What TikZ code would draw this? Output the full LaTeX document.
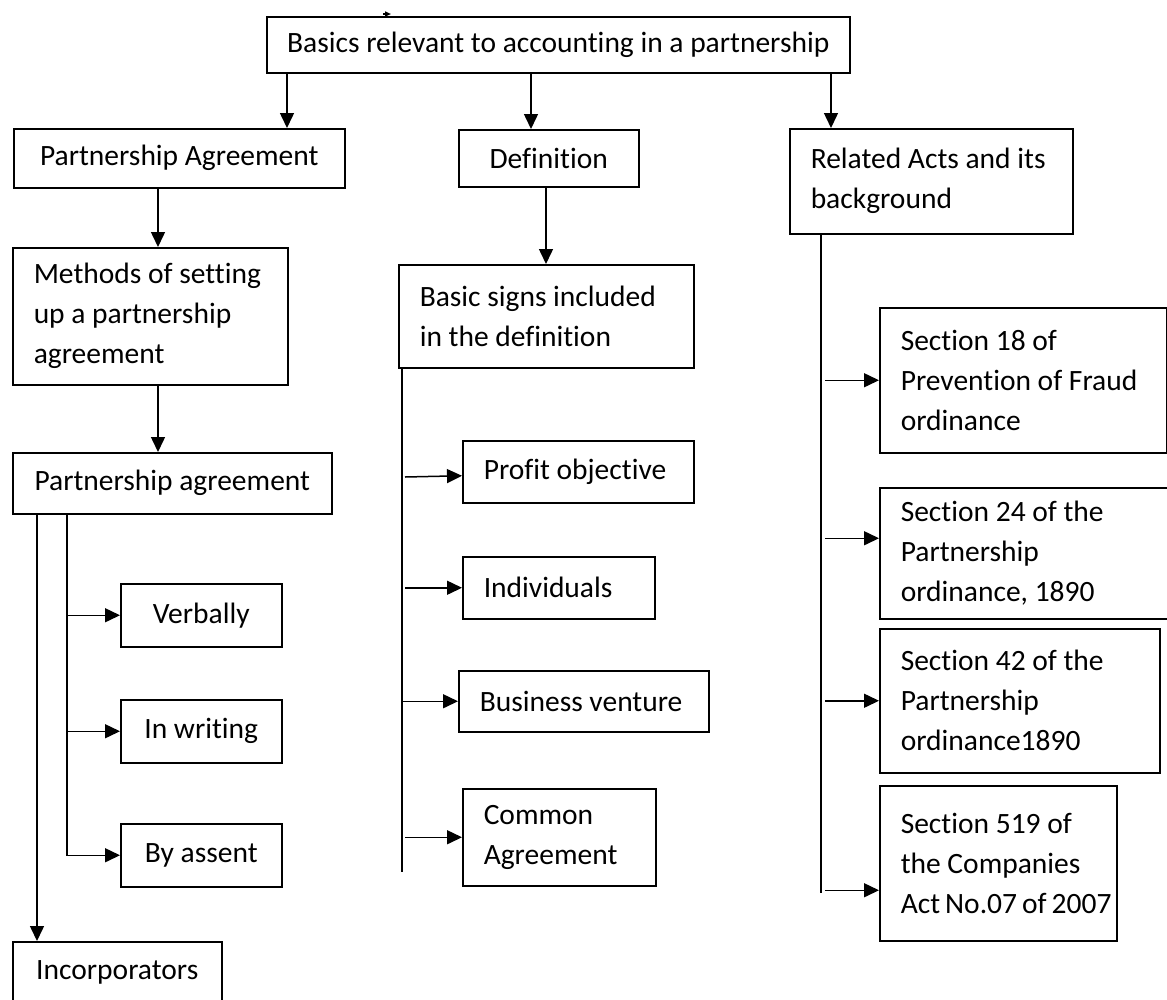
\documentclass[tikz,border=0pt]{standalone}
\usepackage{fontspec}
\setmainfont{Carlito}[Ligatures=NoCommon]
\usetikzlibrary{arrows.meta}

\begin{document}
\begin{tikzpicture}[x=1pt,y=-1pt,
  box/.style={draw, line width=1.5pt, anchor=north west, inner sep=0pt,
    font=\fontsize{29.5}{40}\selectfont},
  lbox/.style={box, inner xsep=21pt, align=flush left},
  line/.style={line width=1.5pt},
  arr/.style={line, -{Triangle[length=15pt,width=14pt]}}]
	\path[use as bounding box, fill=white] (0,0) rectangle (1167,999);

	\node[box, minimum width=583pt, minimum height=56pt] (basics) at (266,16) {Basics relevant to accounting in a partnership};
	\node[box, minimum width=331pt, minimum height=59pt] (pagree) at (13,128) {Partnership Agreement};
	\node[box, minimum width=180pt, minimum height=57pt] (defn) at (458,129) {Definition};
	\node[lbox, text width=241pt, minimum height=105pt] (acts) at (789,128) {Related Acts and its\\background};

	% left column
	\node[lbox, text width=233pt, minimum height=137pt] (methods) at (12,247) {Methods of setting\\up a partnership\\agreement};
	\node[box, minimum width=319pt, minimum height=61pt] (pagree2) at (12,452) {Partnership agreement};
	\node[box, minimum width=161pt, minimum height=63pt] (verbally) at (120,583) {Verbally};
	\node[box, minimum width=161pt, minimum height=63pt] (writing) at (120,699) {In writing};
	\node[box, minimum width=161pt, minimum height=63pt] (assent) at (120,823) {By assent};
	\node[box, minimum width=209pt, minimum height=62pt] (incorp) at (12,941) {Incorporators};

	% middle column
	\node[lbox, text width=253pt, minimum height=103pt] (signs) at (398,264) {Basic signs included\\in the definition};
	\node[lbox, text width=189pt, minimum height=62pt] (profit) at (462,440) {Profit objective};
	\node[lbox, text width=150pt, minimum height=62pt] (indiv) at (462,556) {Individuals};
	\node[lbox, text width=208pt, minimum height=61pt] (venture) at (458,670) {Business venture};
	\node[lbox, text width=151pt, minimum height=97pt] (common) at (462,788) {Common\\Agreement};

	% right column
	\node[lbox, text width=245pt, minimum height=145pt] (sec18) at (879,307) {Section 18 of\\Prevention~of~Fraud\\ordinance};
	\node[lbox, text width=253pt, minimum height=131pt] (sec24) at (879,487) {Section 24 of the\\Partnership\\ordinance, 1890};
	\node[lbox, text width=238pt, minimum height=144pt] (sec42) at (879,628) {Section 42 of the\\Partnership\\ordinance1890};
	\node[lbox, text width=195pt, minimum height=155pt] (sec519) at (879,785) {Section 519 of\\the~Companies\\\mbox{Act\kern5pt No.07\kern5pt of\kern5pt 2007}};

	\coordinate (xa) at (287,0);
	\coordinate (xb) at (531,0);
	\coordinate (xc) at (831,0);
	\coordinate (xd) at (158,0);
	\coordinate (xe) at (546,0);
	\coordinate (xf) at (37,0);
	\coordinate (xg) at (67,0);
	\coordinate (xm) at (402,0);
	\coordinate (xm2) at (405,0);
	\coordinate (mend) at (402,872);
	\coordinate (xr) at (821,0);
	\coordinate (xr2) at (825,0);
	\coordinate (rend) at (821,893);
	\coordinate (pa) at (405,477);
	\coordinate (s24) at ([yshift=15pt]sec24.west);
	\coordinate (s519) at ([yshift=-27pt]sec519.west);
	\coordinate (tick) at (383,14);
	\coordinate (tick2) at (391,14);

	\draw[line, -{Triangle[length=6pt,width=5pt]}] (tick) -- (tick2);

	\draw[arr] (basics.south -| xa) -- (pagree.north -| xa);
	\draw[arr] (basics.south -| xb) -- (defn.north -| xb);
	\draw[arr] (basics.south -| xc) -- (acts.north -| xc);

	\draw[arr] (pagree.south -| xd) -- (methods.north -| xd);
	\draw[arr] (methods.south -| xd) -- (pagree2.north -| xd);
	\draw[arr] (pagree2.south -| xf) -- (incorp.north -| xf);
	\draw[arr] (pagree2.south -| xg) |- (assent.west);
	\draw[arr] (verbally.west -| xg) -- (verbally.west);
	\draw[arr] (writing.west -| xg) -- (writing.west);

	\draw[arr] (defn.south -| xe) -- (signs.north -| xe);
	\draw[line] (signs.south -| xm) -- (mend);
	\draw[arr] (pa) -- ([yshift=-4pt]profit.west);
	\draw[arr] (indiv.west -| xm2) -- (indiv.west);
	\draw[arr] (venture.west -| xm) -- (venture.west);
	\draw[arr] (common.west -| xm2) -- (common.west);

	\draw[line] (acts.south -| xr) -- (rend);
	\draw[arr] (sec18.west -| xr2) -- (sec18.west);
	\draw[arr] (s24 -| xr2) -- (s24);
	\draw[arr] (sec42.west -| xr2) -- (sec42.west);
	\draw[arr] (s519 -| xr2) -- (s519);
\end{tikzpicture}
\end{document}
